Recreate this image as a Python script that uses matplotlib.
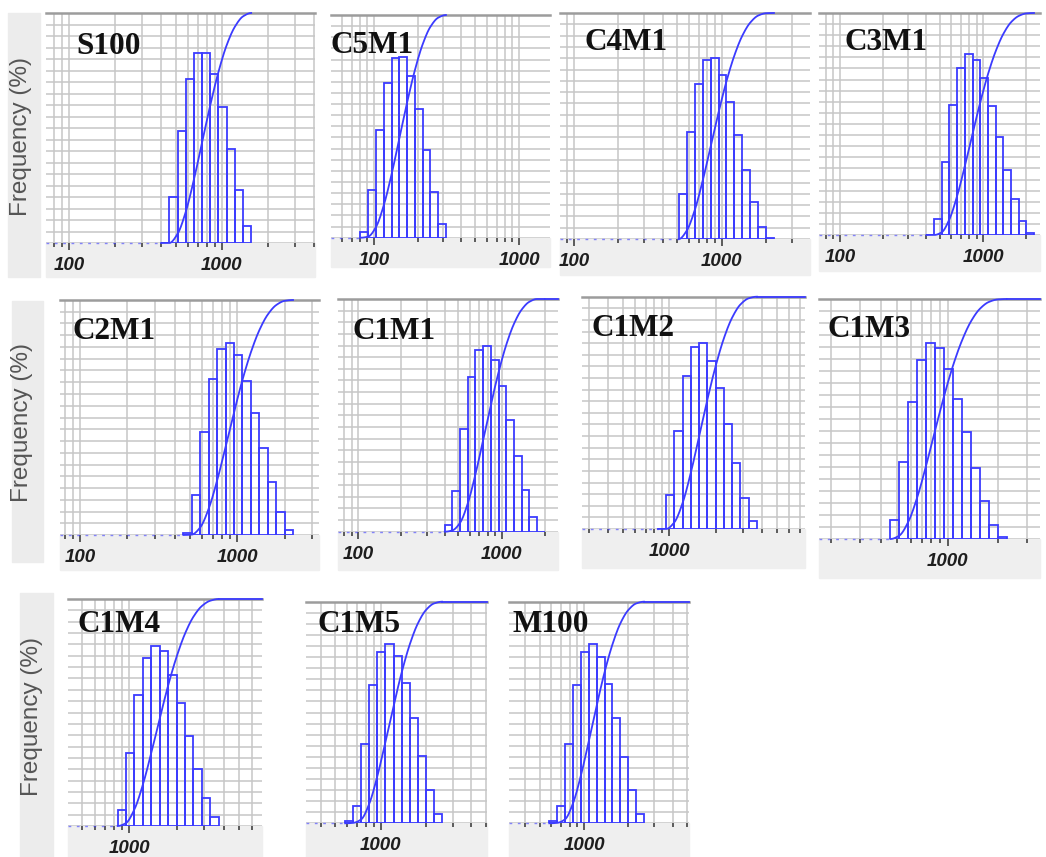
import numpy as np
import matplotlib
matplotlib.use("Agg")
import matplotlib.pyplot as plt
from matplotlib.patches import Rectangle
from matplotlib.ticker import FixedLocator, LogLocator, NullFormatter, FuncFormatter

# size classes of the particle analyser (um), shared by every sample
edges_um = [71.3, 80.6, 91.2, 103.2, 116.7, 132.1, 149.4, 169.1, 191.3, 216.4,
            244.8, 277.0, 313.4, 354.6, 401.2, 453.9, 513.6, 581.1, 657.4, 743.8,
            841.5, 952.1, 1077, 1219, 1379, 1560, 1765, 1997, 2259, 2556,
            2892, 3272, 3702]

samples = ["S100", "C5M1", "C4M1", "C3M1", "C2M1", "C1M1",
           "C1M2", "C1M3", "C1M4", "C1M5", "M100"]

# index into edges_um of the lower edge of the first class of each sample
first_class = [14, 1, 16, 14, 15, 14, 20, 15, 20, 17, 17]

# frequency (%) per size class
freq_S100 = [0, 4.0, 9.7, 14.3, 16.5, 16.5, 14.7, 11.8, 8.2, 4.6, 1.5]
freq_C5M1 = [0.5, 4.3, 9.7, 13.9, 16.1, 16.2, 14.5, 11.6, 7.9, 4.1, 1.2]
freq_C4M1 = [4.0, 9.5, 13.7, 15.8, 16.0, 14.5, 12.1, 9.2, 6.1, 3.3, 1.1, 0.1]
freq_C3M1 = [0, 1.4, 6.6, 11.7, 15.0, 16.3, 15.8, 14.1, 11.6, 8.8, 5.9, 3.2, 1.3, 0.2]
freq_C2M1 = [0.2, 3.4, 8.8, 13.3, 15.8, 16.3, 15.3, 13.1, 10.4, 7.4, 4.5, 2.0, 0.4]
freq_C1M1 = [0.6, 3.5, 8.8, 13.3, 15.6, 16.0, 14.8, 12.5, 9.6, 6.5, 3.6, 1.3, 0]
freq_C1M2 = [0, 2.9, 8.4, 13.2, 15.7, 16.0, 14.5, 12.1, 9.0, 5.7, 2.7, 0.7]
freq_C1M3 = [1.6, 6.4, 11.4, 14.9, 16.3, 15.9, 14.2, 11.7, 8.9, 5.9, 3.2, 1.2, 0.2]
freq_C1M4 = [1.4, 6.4, 11.5, 14.8, 15.9, 15.4, 13.3, 10.8, 7.9, 5.0, 2.5, 0.8]
freq_C1M5 = [0.2, 1.6, 7.2, 12.5, 15.5, 16.2, 15.1, 12.7, 9.5, 6.1, 3.0, 0.8]
freq_M100 = [0.2, 1.6, 7.2, 12.5, 15.5, 16.2, 15.0, 12.6, 9.5, 6.0, 3.0, 0.8]

freqs = [freq_S100, freq_C5M1, freq_C4M1, freq_C3M1, freq_C2M1, freq_C1M1,
         freq_C1M2, freq_C1M3, freq_C1M4, freq_C1M5, freq_M100]

# panel boxes in pixels: left, right, top, baseline, bottom of label strip, x limits
boxes = [
    (46, 315, 13, 243, 277, (70.7, 4083)),
    (331, 550, 15, 237.7, 267, (50.5, 1636)),
    (560, 810, 13, 239, 275, (80.4, 3963)),
    (819.3, 1040, 13, 235, 270.7, (71.8, 2488)),
    (60, 319.3, 300, 535, 570, (74.6, 3319)),
    (338.3, 558.3, 299, 531.7, 570, (72.5, 2489)),
    (582.3, 805, 296.7, 529, 568.3, (272, 7600)),
    (819.3, 1040, 299, 539, 577.7, (170, 3583)),
    (68.3, 261.7, 599, 826, 857, (408, 6966)),
    (305.7, 487.3, 601.7, 823.3, 857, (318, 5106)),
    (509.3, 689.3, 601.7, 823.3, 857, (311, 5188)),
]
# where the sample name sits (left, text baseline), px
name_pos = [(76.7, 54), (331, 53.3), (585, 50), (845, 50), (72.7, 339),
            (352.7, 339), (591.7, 335.7), (827.3, 337.3), (77.3, 631.7),
            (317.3, 631.7), (512.3, 631.7)]
# cumulative curve runs flat at 100 % to the right edge
flat_tail = [False, False, False, False, False, True, True, True, True, True, True]

# grey strips holding the y label: left, right, top, bottom, text centre
ylab_strips = [(8.3, 40, 13.3, 276.7, 21, 136),
               (11.7, 42.7, 301, 561.7, 22, 422),
               (20, 52.7, 593.3, 857, 32.5, 717)]

W, H = 1046, 857
BLUE = "#3b3bff"
GRID = "#c6c6c6"


def cum_curve(xe, cum, n=30):
    # monotone cubic through the cumulative points, in log-x
    u = np.log10(xe)
    y = np.asarray(cum, float)
    h = np.diff(u)
    d = np.diff(y) / h
    m = np.zeros_like(y)
    for i in range(1, len(y) - 1):
        if d[i - 1] > 0 and d[i] > 0:
            m[i] = 2.0 / (1.0 / d[i - 1] + 1.0 / d[i])
    t = np.linspace(0, 1, n)
    h00 = 2 * t**3 - 3 * t**2 + 1
    h10 = t**3 - 2 * t**2 + t
    h01 = -2 * t**3 + 3 * t**2
    h11 = t**3 - t**2
    uu, yy = [], []
    for i in range(len(h)):
        uu.append(u[i] + t * h[i])
        yy.append(h00 * y[i] + h10 * h[i] * m[i] + h01 * y[i + 1] + h11 * h[i] * m[i + 1])
    return 10 ** np.concatenate(uu), np.concatenate(yy)


fig = plt.figure(figsize=(W / 100, H / 100), dpi=100)
fig.patch.set_facecolor("white")

for (l, r, t, b, tx, ty) in ylab_strips:
    fig.patches.append(Rectangle((l / W, 1 - b / H), (r - l) / W, (b - t) / H,
                                 transform=fig.transFigure, color="#ececec", zorder=-1))
    fig.text(tx / W, 1 - ty / H, "Frequency (%)", rotation=90, ha="center", va="center",
             family="Liberation Sans", fontsize=17.5, color="#555555")

for i, name in enumerate(samples):
    left, right, top, base, sbot, xlim = boxes[i]
    f = freqs[i]
    k0 = first_class[i]
    xe = np.array(edges_um[k0:k0 + len(f) + 1])

    # grey strip under the plot, behind the tick labels
    fig.patches.append(Rectangle((left / W, 1 - sbot / H), (right - left) / W, (sbot - base) / H,
                                 transform=fig.transFigure, color="#efefef", zorder=-1))

    ax = fig.add_axes([left / W, 1 - base / H, (right - left) / W, (base - top) / H])
    ax.set_xscale("log")
    ax.set_xlim(*xlim)
    ax.set_ylim(0, 20)
    ax.set_axisbelow(True)

    ax.xaxis.set_major_locator(FixedLocator([10, 100, 1000, 10000]))
    ax.xaxis.set_minor_locator(LogLocator(base=10, subs=range(2, 10), numticks=30))
    ax.xaxis.set_major_formatter(FuncFormatter(lambda v, _: "%d" % round(v)))
    ax.xaxis.set_minor_formatter(NullFormatter())
    ax.set_yticks(np.arange(0, 21, 1))
    ax.tick_params(axis="y", length=0, labelleft=False)
    ax.tick_params(axis="x", which="major", direction="out", length=5, width=1.1,
                   color="#333333", pad=5, labelsize=13.5, labelcolor="#1e1e1e")
    ax.tick_params(axis="x", which="minor", direction="out", length=3.2, width=1.1,
                   color="#333333")
    for lab in ax.get_xticklabels():
        lab.set_family("Liberation Sans")
        lab.set_fontweight("bold")
        lab.set_fontstyle("italic")

    ax.grid(True, which="both", axis="x", color=GRID, lw=1.1)
    ax.grid(True, which="major", axis="y", color=GRID, lw=1.1)
    for s in ["left", "right", "bottom"]:
        ax.spines[s].set_visible(False)
    ax.spines["top"].set_color("#9c9c9c")
    ax.spines["top"].set_linewidth(1.8)

    ax.bar(xe[:-1], f, width=np.diff(xe), align="edge", fill=False,
           edgecolor=BLUE, linewidth=1.3, zorder=3)

    # cumulative undersize curve on its own 0-100 % scale
    ax2 = ax.twinx()
    ax2.set_ylim(0, 100)
    ax2.axis("off")
    cum = np.concatenate([[0], np.cumsum(f)])
    cum = cum / cum[-1] * 100
    cx, cy = cum_curve(xe, cum)
    ax2.plot([xlim[0], xe[0]], [0, 0], color=BLUE, lw=1.0, ls=(0, (2, 4)), alpha=0.6,
             clip_on=False)
    ax2.plot(cx, cy, color=BLUE, lw=1.3, clip_on=False)
    if flat_tail[i]:
        ax2.plot([xe[-1], xlim[1]], [100, 100], color=BLUE, lw=1.3, clip_on=False)

    nx, ny = name_pos[i]
    fig.text(nx / W, 1 - ny / H, name, ha="left", va="baseline",
             family="Liberation Serif", fontweight="bold", fontsize=22.5, color="#111111")

fig.savefig("out.png", dpi=100)
